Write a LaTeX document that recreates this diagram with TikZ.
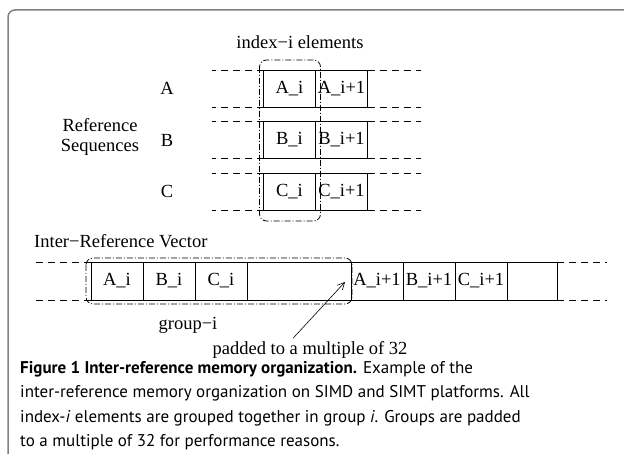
\documentclass[tikz,border=0pt]{standalone}
\usepackage{fontspec}
\setmainfont{Liberation Serif}
\newfontfamily\capfont{PT Sans}
\usetikzlibrary{positioning,arrows.meta}

\tikzset{
  cell/.style={draw, line width=0.8pt, minimum width=52pt, minimum height=37pt,
    inner sep=0pt, outer sep=0pt, font=\fontsize{18.5}{20}\selectfont},
  ext/.style={line width=0.8pt, dash pattern=on 7pt off 5pt},
  grp/.style={line width=0.8pt, dash pattern=on 6pt off 2pt on 1pt off 2pt, rounded corners=7pt},
  lbl/.style={font=\fontsize{18.5}{20}\selectfont, inner sep=0pt},
  frame/.style={draw=black!50, line width=1.5pt, rounded corners=7pt}
}

\begin{document}
\begin{tikzpicture}[x=1pt,y=-1pt]
   \useasboundingbox (0,0) rectangle (624,454);
   \draw[frame] (8,454) |- (624,10);

   % reference sequences
   \node[cell] (ai) at (289.5,88.5) {A\_i};
   \node[cell] (ai1) [right=0pt of ai] {A\_i+1};
   \node[cell] (bi) at (289.5,140) {B\_i};
   \node[cell] (bi1) [right=0pt of bi] {B\_i+1};
   \node[cell] (ci) at (289.5,191.5) {C\_i};
   \node[cell] (ci1) [right=0pt of ci] {C\_i+1};
   \foreach \l/\r in {ai/ai1, bi/bi1, ci/ci1} {
     \draw[ext] (\l.north west) -- ++(-52,0) (\l.south west) -- ++(-52,0);
     \draw[ext] (\r.north east) -- ++(53,0) (\r.south east) -- ++(53,0);
   }
   \node[lbl] (la) at (167,88.5) {A};
   \node[lbl] (lb) at (167,140) {B};
   \node[lbl] (lc) at (167,191.5) {C};
   \node[lbl, align=center] (refseq) at (100,137) {Reference\\Sequences};
   \draw[grp] ([shift={(-4,-10)}]ai.north west) rectangle ([shift={(5,11)}]ci.south east);
   \node[lbl] (idx) at (300,42) {index−i elements};

   % inter-reference vector
   \node[lbl, anchor=west] (irv) at (34,241) {Inter−Reference Vector};
   \node[cell, minimum height=38pt] (va) at (117,281) {A\_i};
   \node[cell, minimum height=38pt] (vb) [right=0pt of va] {B\_i};
   \node[cell, minimum height=38pt] (vc) [right=0pt of vb] {C\_i};
   \node[cell, minimum height=38pt, minimum width=104pt] (vpad) [right=0pt of vc] {};
   \node[cell, minimum height=38pt] (va1) [right=0pt of vpad] {A\_i+1};
   \node[cell, minimum height=38pt] (vb1) [right=0pt of va1] {B\_i+1};
   \node[cell, minimum height=38pt] (vc1) [right=0pt of vb1] {C\_i+1};
   \node[cell, minimum height=38pt, minimum width=50pt] (vpad1) [right=0pt of vc1] {};
   \draw[ext] (va.north west) -- ++(-57,0) (va.south west) -- ++(-57,0);
   \draw[ext] (vpad1.north east) -- ++(50,0) (vpad1.south east) -- ++(50,0);
   \draw[grp] ([shift={(-5,-4)}]va.north west) rectangle ([shift={(1,4)}]vpad.south east);
   \node[lbl] (grpi) at (188,325) {group−i};
   \node[lbl] (pad) at (310,350) {padded to a multiple of 32};
   \draw[-{Straight Barb[length=7pt,width=7pt]}, line width=0.6pt]
     ([xshift=-17pt,yshift=3pt]pad.north) -- ([xshift=-6pt,yshift=-1pt]va1.west);

   % caption
   \node[anchor=north west, align=left, inner sep=0pt,
     font=\capfont\fontsize{17}{24.5}\selectfont] (cap) at (20,361)
     {\textbf{Figure 1 Inter-reference memory organization.} Example of the\\
      inter-reference memory organization on SIMD and SIMT platforms. All\\
      index-\textit{i} elements are grouped together in group \textit{i}. Groups are padded\\
      to a multiple of 32 for performance reasons.};
\end{tikzpicture}
\end{document}
